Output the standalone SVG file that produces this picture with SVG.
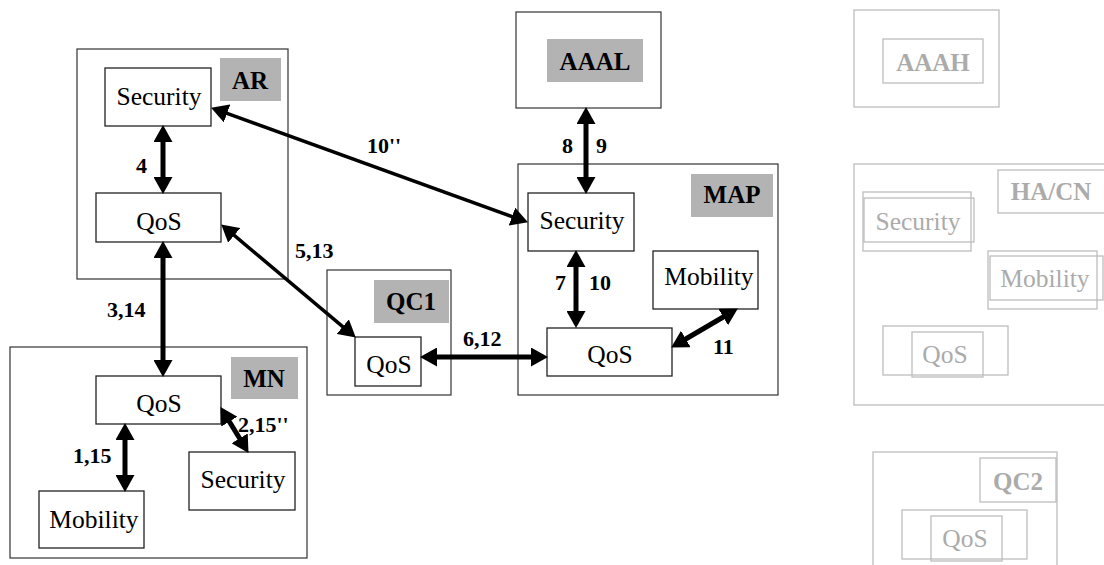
<svg xmlns="http://www.w3.org/2000/svg" width="1104" height="565" viewBox="0 0 1104 565">
<style>
.box{fill:#fff;stroke:#222;stroke-width:1.3}
.outer{fill:#fff;stroke:#333;stroke-width:1.2}
.tag{fill:#b3b3b3;stroke:none}
.t{font-family:"Liberation Serif","Times New Roman",serif;font-size:25.5px;fill:#000;text-anchor:middle}
.b{font-family:"Liberation Serif","Times New Roman",serif;font-size:25px;font-weight:bold;fill:#000;text-anchor:middle}
.n{font-family:"Liberation Serif","Times New Roman",serif;font-size:22px;font-weight:bold;fill:#000}
.g{fill:none;stroke:#bdbdbd;stroke-width:1.3}
.gt{font-family:"Liberation Serif","Times New Roman",serif;font-size:25.5px;fill:#ababab;text-anchor:middle}
.gb{font-family:"Liberation Serif","Times New Roman",serif;font-size:25px;font-weight:bold;fill:#ababab;text-anchor:middle}
.c{stroke:#000;stroke-width:5;fill:none;marker-start:url(#ah);marker-end:url(#ah)}
.c2{stroke:#000;stroke-width:3.5;fill:none;marker-start:url(#ah);marker-end:url(#ah)}
</style>
<defs>
<marker id="ah" viewBox="0 0 17 19" refX="8" refY="9.5" markerWidth="17" markerHeight="19" markerUnits="userSpaceOnUse" orient="auto-start-reverse">
<path d="M0,0 L17,9.5 L0,19 z" fill="#000"/>
</marker>
</defs>

<g id="AR">
<rect class="outer" x="77" y="49" width="211" height="230"/>
<rect class="tag" x="220" y="58" width="61" height="43"/>
<text class="b" x="250" y="89">AR</text>
<g id="AR-Security">
<rect class="box" x="105" y="68" width="106" height="58"/>
<text class="t" x="159" y="105">Security</text>
</g>
<g id="AR-QoS">
<rect class="box" x="96" y="193" width="125" height="49"/>
<text class="t" x="159" y="230">QoS</text>
</g>
</g>

<g id="MN">
<rect class="outer" x="10" y="347" width="297" height="211"/>
<rect class="tag" x="231" y="357" width="67" height="42"/>
<text class="b" x="264" y="387">MN</text>
<g id="MN-QoS">
<rect class="box" x="96" y="376" width="125" height="48"/>
<text class="t" x="159" y="412">QoS</text>
</g>
<g id="MN-Security">
<rect class="box" x="189" y="452" width="106" height="58"/>
<text class="t" x="243" y="488">Security</text>
</g>
<g id="MN-Mobility">
<rect class="box" x="39" y="491" width="105" height="57"/>
<text class="t" x="94" y="528">Mobility</text>
</g>
</g>

<g id="AAAL">
<rect class="outer" x="516" y="12" width="145" height="96"/>
<rect class="tag" x="547" y="39" width="96" height="43"/>
<text class="b" x="595" y="70">AAAL</text>
</g>

<g id="QC1">
<rect class="outer" x="327" y="270" width="124" height="125"/>
<rect class="tag" x="374" y="280" width="75" height="43"/>
<text class="b" x="411" y="310">QC1</text>
<g id="QC1-QoS">
<rect class="box" x="355" y="337" width="66" height="49"/>
<text class="t" x="389" y="373">QoS</text>
</g>
</g>

<g id="MAP">
<rect class="outer" x="518" y="164" width="260" height="231"/>
<rect class="tag" x="691" y="174" width="82" height="43"/>
<text class="b" x="732" y="203">MAP</text>
<g id="MAP-Security">
<rect class="box" x="528" y="193" width="106" height="58"/>
<text class="t" x="582" y="229">Security</text>
</g>
<g id="MAP-Mobility">
<rect class="box" x="653" y="251" width="105" height="58"/>
<text class="t" x="709" y="285">Mobility</text>
</g>
<g id="MAP-QoS">
<rect class="box" x="547" y="328" width="125" height="48"/>
<text class="t" x="610" y="363">QoS</text>
</g>
</g>

<g id="AAAH">
<rect class="g" x="854" y="10" width="145" height="97"/>
<rect class="g" x="883" y="39" width="100" height="44"/>
<text class="gb" x="933" y="71">AAAH</text>
</g>

<g id="HACN">
<rect class="g" x="854" y="164" width="262" height="241"/>
<rect class="g" x="998" y="170" width="110" height="43"/>
<text class="gb" x="1051" y="200">HA/CN</text>
<g id="HACN-Security">
<rect class="g" x="863" y="192" width="108" height="59"/>
<rect class="g" x="864" y="198" width="110" height="44"/>
<text class="gt" x="918" y="230">Security</text>
</g>
<g id="HACN-Mobility">
<rect class="g" x="988" y="251" width="109" height="58"/>
<rect class="g" x="990" y="256" width="113" height="44"/>
<text class="gt" x="1045" y="287">Mobility</text>
</g>
<g id="HACN-QoS">
<rect class="g" x="883" y="326" width="125" height="49"/>
<rect class="g" x="912" y="332" width="71" height="45"/>
<text class="gt" x="945" y="363">QoS</text>
</g>
</g>

<g id="QC2">
<rect class="g" x="873" y="452" width="184" height="130"/>
<rect class="g" x="980" y="458" width="76" height="44"/>
<text class="gb" x="1018" y="490">QC2</text>
<g id="QC2-QoS">
<rect class="g" x="902" y="510" width="125" height="49"/>
<rect class="g" x="931" y="516" width="71" height="45"/>
<text class="gt" x="965" y="547">QoS</text>
</g>
</g>

<g id="connectors">
<line class="c" x1="163" y1="134" x2="163" y2="185"/>
<line class="c" x1="163" y1="250" x2="163" y2="368"/>
<line class="c" x1="125" y1="432" x2="125" y2="483"/>
<line class="c" x1="225.2" y1="414.8" x2="243.8" y2="445.2"/>
<line class="c2" x1="219.5" y1="110.7" x2="519.5" y2="219.3"/>
<line class="c2" x1="228.1" y1="230.2" x2="348.9" y2="331.8"/>
<line class="c" x1="586" y1="116" x2="586" y2="185"/>
<line class="c" x1="576" y1="259" x2="576" y2="319"/>
<line class="c" x1="429" y1="357" x2="539" y2="357"/>
<line class="c" x1="678.9" y1="343" x2="730.1" y2="313"/>
</g>

<g id="labels">
<text class="n" x="136" y="173">4</text>
<text class="n" x="107" y="317">3,14</text>
<text class="n" x="73" y="463">1,15</text>
<text class="n" x="238" y="432">2,15''</text>
<text class="n" x="367" y="153">10''</text>
<text class="n" x="295" y="258">5,13</text>
<text class="n" x="562" y="153">8</text>
<text class="n" x="596" y="153">9</text>
<text class="n" x="555" y="290">7</text>
<text class="n" x="589" y="290">10</text>
<text class="n" x="463" y="346">6,12</text>
<text class="n" x="713" y="354">11</text>
</g>
</svg>
